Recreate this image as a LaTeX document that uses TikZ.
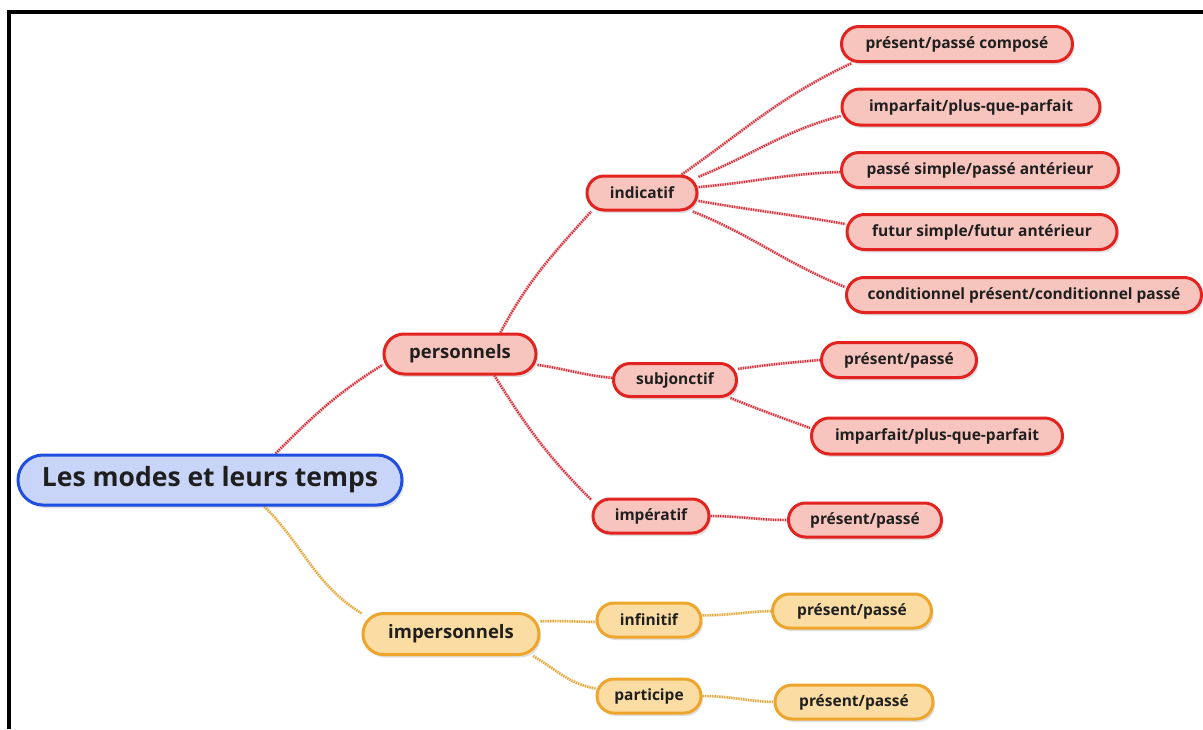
\documentclass[tikz,border=0pt]{standalone}
\usepackage{fontspec}
\setmainfont{Open Sans}
\usetikzlibrary{shadows,backgrounds}
\definecolor{rbd}{HTML}{E3231F}
\definecolor{rfl}{HTML}{F8C5BE}
\definecolor{obd}{HTML}{EEA52C}
\definecolor{ofl}{HTML}{FBDDA4}
\definecolor{bbd}{HTML}{1F4FE0}
\definecolor{bfl}{HTML}{C9D5F8}
\definecolor{rln}{HTML}{D8303A}
\definecolor{oln}{HTML}{E5A83A}
\tikzset{
  pill/.style={rectangle, line width=3pt, inner sep=0pt,
    drop shadow={shadow xshift=2pt, shadow yshift=-3pt, opacity=0.25},
    font=\bfseries\fontsize{15.5}{18}\selectfont, text=black!88},
  rednode/.style={pill, draw=rbd, fill=rfl},
  orgnode/.style={pill, draw=obd, fill=ofl},
  rootnode/.style={pill, draw=bbd, fill=bfl, font=\bfseries\fontsize{26.5}{30}\selectfont},
  bignode/.style={font=\bfseries\fontsize{18.5}{22}\selectfont},
  redline/.style={preaction={draw=rln!25, line width=3pt, solid}, draw=rln, line width=2.4pt, dash pattern=on 1.3pt off 1.1pt},
  orgline/.style={preaction={draw=oln!25, line width=3pt, solid}, draw=oln, line width=2.4pt, dash pattern=on 1.3pt off 1.1pt},
}
\begin{document}
\begin{tikzpicture}[x=1pt,y=-1pt]
\useasboundingbox (0,0) rectangle (1203,729);

% nodes
\node[rootnode, minimum width=384pt, minimum height=50pt, rounded corners=25pt] (root) at (210,480) {Les modes et leurs temps};
\node[rednode, bignode, minimum width=152pt, minimum height=40pt, rounded corners=20pt] (pers) at (460,354) {personnels};
\node[orgnode, bignode, minimum width=176pt, minimum height=41pt, rounded corners=20.5pt] (impers) at (451,634) {impersonnels};

\node[rednode, minimum width=110pt, minimum height=34pt, rounded corners=17pt] (ind) at (642,193) {indicatif};
\node[rednode, minimum width=123pt, minimum height=33pt, rounded corners=16.5pt] (subj) at (675,380) {subjonctif};
\node[rednode, minimum width=116pt, minimum height=34pt, rounded corners=17pt] (imper) at (651,516) {impératif};
\node[orgnode, minimum width=104pt, minimum height=34pt, rounded corners=17pt] (inf) at (649,620) {infinitif};
\node[orgnode, minimum width=104pt, minimum height=34pt, rounded corners=17pt] (part) at (649,696) {participe};

\node[rednode, minimum width=231pt, minimum height=35pt, rounded corners=17.5pt] (i1) at (957,44) {présent/passé composé};
\node[rednode, minimum width=258pt, minimum height=36pt, rounded corners=18pt] (i2) at (971,107) {imparfait/plus-que-parfait};
\node[rednode, minimum width=277pt, minimum height=35pt, rounded corners=17.5pt] (i3) at (980,170) {passé simple/passé antérieur};
\node[rednode, minimum width=270pt, minimum height=35pt, rounded corners=17.5pt] (i4) at (982,232) {futur simple/futur antérieur};
\node[rednode, minimum width=355pt, minimum height=35pt, rounded corners=17.5pt] (i5) at (1024,295) {conditionnel présent/conditionnel passé};

\node[rednode, minimum width=155pt, minimum height=35pt, rounded corners=17.5pt] (s1) at (899,360) {présent/passé};
\node[rednode, minimum width=251pt, minimum height=36pt, rounded corners=18pt] (s2) at (937,436) {imparfait/plus-que-parfait};
\node[rednode, minimum width=153pt, minimum height=34pt, rounded corners=17pt] (m1) at (865,520) {présent/passé};
\node[orgnode, minimum width=159pt, minimum height=34pt, rounded corners=17pt] (f1) at (852,611) {présent/passé};
\node[orgnode, minimum width=158pt, minimum height=34pt, rounded corners=17pt] (p1) at (854,702) {présent/passé};

\begin{scope}[on background layer]
\fill[white] (0,0) rectangle (1203,729);
% frame
\draw[line width=4pt, black] (9,729) -- (9,12) -- (1203,12);
% connectors
\path[redline] (root.22) to[out=45,in=212] (pers.188);
\path[orgline] (root.-26) to[out=-45,in=148] (impers.167);
\path[redline] (pers.28) to[out=62,in=228] (ind.200);
\path[redline] (pers.-8) to[out=-8,in=175] (subj.178);
\path[redline] (pers.-32) to[out=-58,in=135] (imper.165);
\path[orgline] (impers.8) to[out=3,in=180] (inf.182);
\path[orgline] (impers.-15) to[out=-30,in=170] (part.172);

\path[redline] (ind.25) to[out=35,in=205] ([xshift=12pt]i1.south west);
\path[redline] (ind.16) to[out=22,in=195] ([yshift=-9pt]i2.west);
\path[redline] (ind.6) to[out=5,in=182] ([yshift=-2pt]i3.west);
\path[redline] (ind.-8) to[out=-10,in=170] ([yshift=8pt]i4.west);
\path[redline] (ind.-20) to[out=-22,in=158] ([yshift=8pt]i5.west);

\path[redline] (subj.10) to[out=8,in=185] (s1.west);
\path[redline] (subj.-18) to[out=-22,in=160] ([yshift=8pt]s2.west);
\path[redline] (imper.0) to[out=0,in=180] (m1.west);
\path[orgline] (inf.5) to[out=0,in=182] (f1.west);
\path[orgline] (part.0) to[out=0,in=178] (p1.west);
\end{scope}
\end{tikzpicture}
\end{document}
